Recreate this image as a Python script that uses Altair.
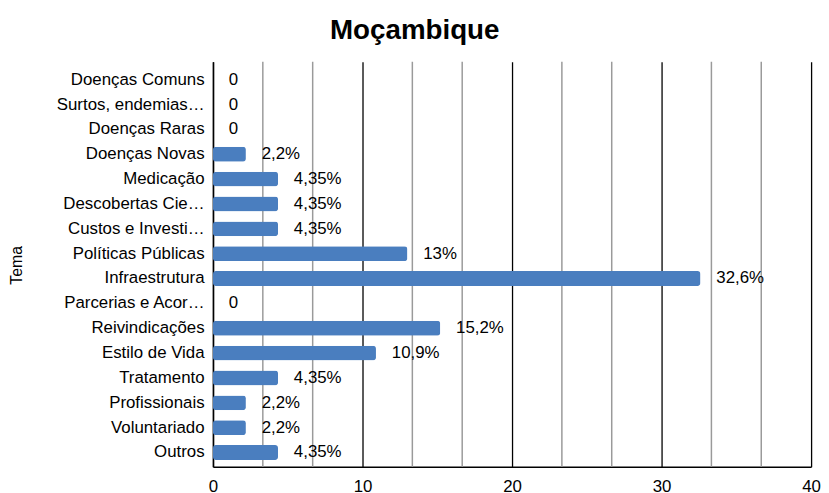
import altair as alt
import pandas as pd

categories = [
    "Doenças Comuns", "Surtos, endemias…", "Doenças Raras", "Doenças Novas",
    "Medicação", "Descobertas Cie…", "Custos e Investi…", "Políticas Públicas",
    "Infraestrutura", "Parcerias e Acor…", "Reivindicações", "Estilo de Vida",
    "Tratamento", "Profissionais", "Voluntariado", "Outros",
]
values = [0, 0, 0, 2.2, 4.35, 4.35, 4.35, 13, 32.6, 0, 15.2, 10.9, 4.35, 2.2, 2.2, 4.35]
major_ticks = [0, 10, 20, 30, 40]
minor_ticks = [10 / 3, 20 / 3, 40 / 3, 50 / 3, 70 / 3, 80 / 3, 100 / 3, 110 / 3]


def fmt(v):
    if v == 0:
        return "0"
    return f"{v:g}".replace(".", ",") + "%"


df = pd.DataFrame({
    "Tema": categories,
    "valor": values,
    "rotulo": [fmt(v) for v in values],
})
minor_df = pd.DataFrame({"g": minor_ticks})

FONT = "Liberation Sans"
xscale = alt.Scale(domain=[0, 40], nice=False)
yscale = alt.Scale(paddingInner=0, paddingOuter=0.147, align=0.74)
xaxis = alt.Axis(values=major_ticks, format="d")

minor = alt.Chart(minor_df).mark_rule(color="#9a9a9a", strokeWidth=1.5).encode(
    x=alt.X("g:Q", scale=xscale, title=None, axis=xaxis)
)

bars = alt.Chart(df).mark_bar(color="#4a7ebf", size=15, cornerRadius=3).encode(
    y=alt.Y("Tema:N", sort=categories, title="Tema", scale=yscale),
    x=alt.X("valor:Q", scale=xscale, title=None, axis=xaxis),
)

text = alt.Chart(df).mark_text(align="left", baseline="middle", dx=16,
                               fontSize=17, font=FONT, color="#000").encode(
    y=alt.Y("Tema:N", sort=categories, title="Tema", scale=yscale),
    x=alt.X("valor:Q", scale=xscale, title=None, axis=xaxis),
    text="rotulo:N",
)

chart = alt.layer(minor, bars, text).properties(
    width=604, height=409,
    title=alt.TitleParams("Moçambique", fontSize=28, font=FONT, fontWeight="bold",
                          color="#000", anchor="middle", frame="bounds", offset=16),
    autosize=alt.AutoSizeParams(type="none"),
    padding={"left": 207, "top": 52, "right": 10, "bottom": 24},
).configure_view(stroke=None).configure_axisY(
    labelFontSize=17, labelFont=FONT, labelColor="#000", labelLimit=400,
    labelPadding=9, ticks=False, domainColor="#000", domainWidth=1.5, grid=False,
    titleFont=FONT, titleFontSize=16, titleFontWeight="normal", titleColor="#000",
    titleX=-198, titleY=205, titleBaseline="middle", titleAngle=-90,
).configure_axisX(
    grid=True, gridColor="#000", gridWidth=1.3, ticks=False, domainColor="#000",
    domainWidth=1.5, labelFontSize=17, labelFont=FONT, labelColor="#000",
    labelPadding=12, labelFlush=False,
)

chart.save("out.html", embed_options={"renderer": "svg", "actions": False})
